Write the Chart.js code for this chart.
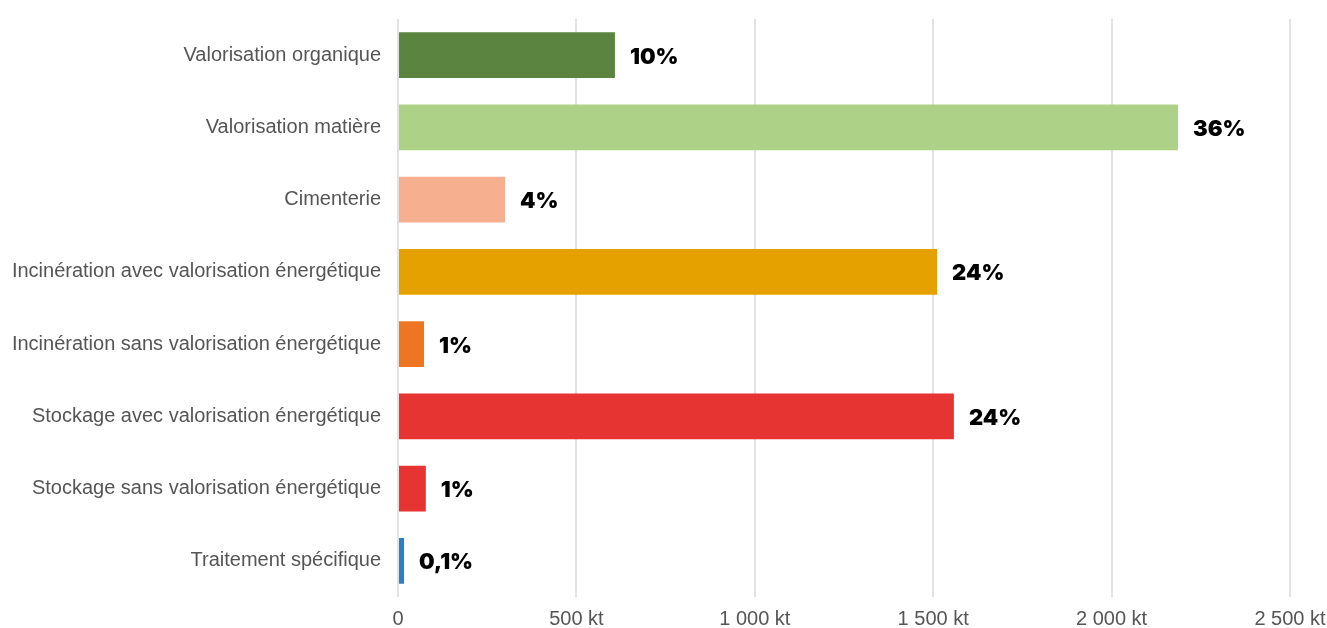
<!DOCTYPE html>
<html>
<head>
<meta charset="utf-8">
<script src="https://cdn.jsdelivr.net/npm/chart.js@4/dist/chart.umd.min.js"></script>
<style>
  html, body { margin: 0; padding: 0; background: #fff; }
  #wrap { width: 1327px; height: 628px; position: relative; }
</style>
</head>
<body>
<div id="wrap"><canvas id="treatChart"></canvas></div>
<script>
const categories = [
    'Valorisation organique',
    'Valorisation matière',
    'Cimenterie',
    'Incinération avec valorisation énergétique',
    'Incinération sans valorisation énergétique',
    'Stockage avec valorisation énergétique',
    'Stockage sans valorisation énergétique',
    'Traitement spécifique'
];
// tonnages in kt
const tonnages = [608, 2186, 300, 1511, 73, 1558, 78, 17];
const shares = ['10%', '36%', '4%', '24%', '1%', '24%', '1%', '0,1%'];
const barColors = ['#5a843f', '#add186', '#f7b08f', '#e5a100', '#ee7623', '#e63433', '#e63433', '#2a80c3'];

// draws the percentage next to each bar
const shareLabels = {
    id: 'shareLabels',
    afterDatasetsDraw(chart) {
        const c = chart.ctx;
        const meta = chart.getDatasetMeta(0);
        c.save();
        c.font = '900 22px Inter';
        c.fillStyle = '#000';
        c.textBaseline = 'middle';
        c.textAlign = 'left';
        meta.data.forEach((bar, i) => {
            c.fillText(shares[i], bar.x + 15, bar.y + 2);
        });
        c.restore();
    }
};

const ctx = document.getElementById('treatChart').getContext('2d');
const treatChart = new Chart(ctx, {
    type: 'bar',
    data: {
        labels: categories,
        datasets: [{
            data: tonnages,
            backgroundColor: barColors,
            borderWidth: 0,
            categoryPercentage: 1,
            barPercentage: 0.633,
        }]
    },
    options: {
        indexAxis: 'y',
        responsive: true,
        maintainAspectRatio: false,
        animation: false,
        layout: {
            padding: { top: 19, right: 37, bottom: 0, left: 0 }
        },
        scales: {
            x: {
                min: 0,
                max: 2500,
                afterFit: (scale) => {
                    scale.height = 31;
                    scale.paddingLeft = 0;
                    scale.paddingRight = 0;
                },
                ticks: {
                    stepSize: 500,
                    padding: 10,
                    color: '#555',
                    font: { family: 'Liberation Sans', size: 20 },
                    callback: (v) => v === 0 ? '0' : String(v).replace(/\B(?=(\d{3})+(?!\d))/g, ' ') + ' kt',
                },
                grid: {
                    color: '#e2e2e2',
                    lineWidth: 2,
                    drawTicks: false,
                },
                border: { display: false },
            },
            y: {
                afterFit: (scale) => {
                    scale.width = 398;
                    scale.paddingTop = 0;
                    scale.paddingBottom = 0;
                },
                ticks: {
                    padding: 17,
                    color: '#555',
                    font: { family: 'Liberation Sans', size: 20 },
                },
                grid: { display: false, drawTicks: false },
                border: { display: false },
            },
        },
        plugins: {
            legend: { display: false },
            tooltip: { enabled: false },
        },
    },
    plugins: [shareLabels]
});
</script>
</body>
</html>
